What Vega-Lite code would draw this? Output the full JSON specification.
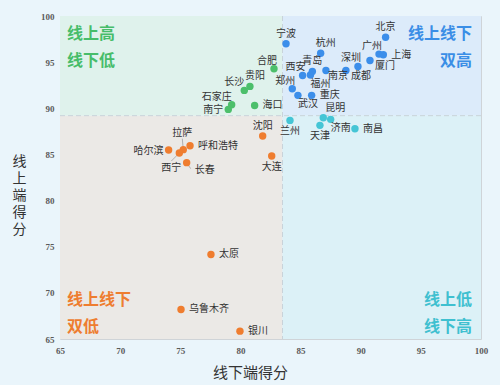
{
  "$schema": "https://vega.github.io/schema/vega-lite/v6.json",
  "width": 421,
  "height": 323,
  "autosize": "none",
  "padding": {"left": 60, "top": 16, "right": 19, "bottom": 46},
  "background": "#eaf5fb",
  "config": {"view": {"stroke": "#cfd4d8", "strokeWidth": 1}, "font": "Noto Sans CJK SC"},
  "datasets": {
    "cities": [
      {"city": "北京", "x": 92.07, "y": 97.70, "q": "tr"},
      {"city": "宁波", "x": 83.79, "y": 96.99, "q": "tr"},
      {"city": "杭州", "x": 86.67, "y": 95.97, "q": "tr"},
      {"city": "广州", "x": 91.52, "y": 95.87, "q": "tr"},
      {"city": "上海", "x": 91.88, "y": 95.80, "q": "tr"},
      {"city": "厦门", "x": 90.77, "y": 95.18, "q": "tr"},
      {"city": "深圳", "x": 89.77, "y": 94.53, "q": "tr"},
      {"city": "成都", "x": 88.77, "y": 94.10, "q": "tr"},
      {"city": "南京", "x": 87.11, "y": 94.10, "q": "tr"},
      {"city": "青岛", "x": 85.98, "y": 93.99, "q": "tr"},
      {"city": "福州", "x": 85.82, "y": 93.61, "q": "tr"},
      {"city": "西安", "x": 85.17, "y": 93.56, "q": "tr"},
      {"city": "郑州", "x": 84.31, "y": 92.12, "q": "tr"},
      {"city": "武汉", "x": 84.78, "y": 91.40, "q": "tr"},
      {"city": "重庆", "x": 85.92, "y": 91.40, "q": "tr"},
      {"city": "合肥", "x": 82.79, "y": 94.29, "q": "tl"},
      {"city": "贵阳", "x": 80.79, "y": 92.37, "q": "tl"},
      {"city": "长沙", "x": 80.32, "y": 91.94, "q": "tl"},
      {"city": "海口", "x": 81.18, "y": 90.31, "q": "tl"},
      {"city": "石家庄", "x": 79.27, "y": 90.39, "q": "tl"},
      {"city": "南宁", "x": 78.99, "y": 89.88, "q": "tl"},
      {"city": "兰州", "x": 84.12, "y": 88.69, "q": "br"},
      {"city": "昆明", "x": 86.89, "y": 88.98, "q": "br"},
      {"city": "济南", "x": 87.50, "y": 88.80, "q": "br"},
      {"city": "天津", "x": 86.61, "y": 88.15, "q": "br"},
      {"city": "南昌", "x": 89.52, "y": 87.79, "q": "br"},
      {"city": "沈阳", "x": 81.85, "y": 86.99, "q": "bl"},
      {"city": "大连", "x": 82.60, "y": 84.83, "q": "bl"},
      {"city": "哈尔滨", "x": 74.03, "y": 85.48, "q": "bl"},
      {"city": "拉萨", "x": 75.25, "y": 85.52, "q": "bl"},
      {"city": "西宁", "x": 74.92, "y": 85.15, "q": "bl"},
      {"city": "呼和浩特", "x": 75.81, "y": 85.94, "q": "bl"},
      {"city": "长春", "x": 75.53, "y": 84.11, "q": "bl"},
      {"city": "太原", "x": 77.55, "y": 74.16, "q": "bl"},
      {"city": "乌鲁木齐", "x": 75.06, "y": 68.20, "q": "bl"},
      {"city": "银川", "x": 79.96, "y": 65.85, "q": "bl"}
    ],
    "quads": [
      {"q": "tl", "x1": 65, "x2": 83.5, "y1": 89.2, "y2": 100},
      {"q": "tr", "x1": 83.5, "x2": 100, "y1": 89.2, "y2": 100},
      {"q": "bl", "x1": 65, "x2": 83.5, "y1": 65, "y2": 89.2},
      {"q": "br", "x1": 83.5, "x2": 100, "y1": 65, "y2": 89.2}
    ],
    "splits": [{"xs": 83.5, "ys": 89.2}]
  },
  "layer": [
    {
      "data": {"name": "quads"},
      "mark": {"type": "rect"},
      "encoding": {
        "x": {
          "field": "x1", "type": "quantitative",
          "scale": {"domain": [65, 100], "nice": false, "zero": false},
          "axis": {
            "values": [65, 70, 75, 80, 85, 90, 95, 100],
            "title": "线下端得分",
            "ticks": false, "domain": false, "grid": false,
            "labelFont": "Liberation Sans Narrow", "labelFontWeight": "bold", "labelFontSize": 9,
            "labelColor": "#5a5a5a", "labelPadding": 7, "labelFlush": false,
            "titleFont": "Noto Sans CJK SC", "titleFontSize": 15, "titleFontWeight": "normal",
            "titleColor": "#333333", "titleX": 190, "titleY": 33, "titleBaseline": "middle", "titleAlign": "center"
          }
        },
        "x2": {"field": "x2"},
        "y": {
          "field": "y1", "type": "quantitative",
          "scale": {"domain": [65, 100], "nice": false, "zero": false},
          "axis": {
            "values": [65, 70, 75, 80, 85, 90, 95, 100],
            "title": ["线", "上", "端", "得", "分"],
            "ticks": false, "domain": false, "grid": false,
            "labelFont": "Liberation Sans Narrow", "labelFontWeight": "bold", "labelFontSize": 9,
            "labelColor": "#5a5a5a", "labelPadding": 6, "labelFlush": false,
            "titleFont": "Noto Sans CJK SC", "titleFontSize": 14, "titleFontWeight": "normal",
            "titleColor": "#333333", "titleAngle": 0, "titleX": -41, "titleY": 145,
            "titleAlign": "center", "titleBaseline": "middle", "titleLineHeight": 17
          }
        },
        "y2": {"field": "y2"},
        "fill": {
          "field": "q", "type": "nominal",
          "scale": {"domain": ["tl", "tr", "bl", "br"], "range": ["#dff2ec", "#dcebfa", "#ebe9e6", "#dcf1f7"]},
          "legend": null
        }
      }
    },
    {
      "data": {"name": "splits"},
      "mark": {"type": "rule", "stroke": "#c9d3da", "strokeDash": [5, 3], "strokeWidth": 1},
      "encoding": {"x": {"field": "xs", "type": "quantitative"}}
    },
    {
      "data": {"name": "splits"},
      "mark": {"type": "rule", "stroke": "#c9d3da", "strokeDash": [5, 3], "strokeWidth": 1},
      "encoding": {"y": {"field": "ys", "type": "quantitative"}}
    },
    {
      "data": {"name": "cities"},
      "transform": [{"filter": {"field": "city", "equal": "拉萨"}}],
      "mark": {"type": "rule", "stroke": "#a0a0a0", "strokeWidth": 0.8, "y2Offset": -11, "x2Offset": -1},
      "encoding": {"x": {"field": "x", "type": "quantitative"}, "x2": {"field": "x"}, "y": {"field": "y", "type": "quantitative"}, "y2": {"field": "y"}}
    },
    {
      "data": {"name": "cities"},
      "transform": [{"filter": {"field": "city", "equal": "西宁"}}],
      "mark": {"type": "rule", "stroke": "#a0a0a0", "strokeWidth": 0.8, "y2Offset": 8, "x2Offset": -8},
      "encoding": {"x": {"field": "x", "type": "quantitative"}, "x2": {"field": "x"}, "y": {"field": "y", "type": "quantitative"}, "y2": {"field": "y"}}
    },
    {
      "data": {"name": "cities"},
      "transform": [{"filter": {"field": "city", "equal": "长春"}}],
      "mark": {"type": "rule", "stroke": "#a0a0a0", "strokeWidth": 0.8, "y2Offset": 6, "x2Offset": 4},
      "encoding": {"x": {"field": "x", "type": "quantitative"}, "x2": {"field": "x"}, "y": {"field": "y", "type": "quantitative"}, "y2": {"field": "y"}}
    },
    {
      "data": {"name": "cities"},
      "mark": {"type": "circle", "size": 55, "opacity": 1},
      "encoding": {
        "x": {"field": "x", "type": "quantitative"},
        "y": {"field": "y", "type": "quantitative"},
        "color": {
          "field": "q", "type": "nominal",
          "scale": {"domain": ["tl", "tr", "bl", "br"], "range": ["#4cbf6b", "#3b8eea", "#ef7d2f", "#45c5d5"]},
          "legend": null
        }
      }
    },
    {
      "data": {"name": "cities"},
      "transform": [{"filter": {"field": "city", "oneOf": ["宁波", "北京", "青岛", "沈阳"]}}],
      "mark": {"type": "text", "fontSize": 10, "color": "#333333", "align": "center", "baseline": "middle", "dy": -10},
      "encoding": {"x": {"field": "x", "type": "quantitative"}, "y": {"field": "y", "type": "quantitative"}, "text": {"field": "city"}}
    },
    {
      "data": {"name": "cities"},
      "transform": [{"filter": {"field": "city", "oneOf": ["杭州", "贵阳"]}}],
      "mark": {"type": "text", "fontSize": 10, "color": "#333333", "align": "left", "baseline": "middle", "dx": -5, "dy": -10},
      "encoding": {"x": {"field": "x", "type": "quantitative"}, "y": {"field": "y", "type": "quantitative"}, "text": {"field": "city"}}
    },
    {
      "data": {"name": "cities"},
      "transform": [{"filter": {"field": "city", "oneOf": ["广州", "深圳", "西安", "郑州", "合肥"]}}],
      "mark": {"type": "text", "fontSize": 10, "color": "#333333", "align": "right", "baseline": "middle", "dx": 3, "dy": -8},
      "encoding": {"x": {"field": "x", "type": "quantitative"}, "y": {"field": "y", "type": "quantitative"}, "text": {"field": "city"}}
    },
    {
      "data": {"name": "cities"},
      "transform": [{"filter": {"field": "city", "oneOf": ["长沙", "石家庄"]}}],
      "mark": {"type": "text", "fontSize": 10, "color": "#333333", "align": "right", "baseline": "middle", "dx": 0, "dy": -8},
      "encoding": {"x": {"field": "x", "type": "quantitative"}, "y": {"field": "y", "type": "quantitative"}, "text": {"field": "city"}}
    },
    {
      "data": {"name": "cities"},
      "transform": [{"filter": {"field": "city", "oneOf": ["上海", "重庆", "南昌", "海口", "呼和浩特", "太原", "乌鲁木齐", "银川"]}}],
      "mark": {"type": "text", "fontSize": 10, "color": "#333333", "align": "left", "baseline": "middle", "dx": 8},
      "encoding": {"x": {"field": "x", "type": "quantitative"}, "y": {"field": "y", "type": "quantitative"}, "text": {"field": "city"}}
    },
    {
      "data": {"name": "cities"},
      "transform": [{"filter": {"field": "city", "oneOf": ["厦门", "成都"]}}],
      "mark": {"type": "text", "fontSize": 10, "color": "#333333", "align": "left", "baseline": "middle", "dx": 5, "dy": 6},
      "encoding": {"x": {"field": "x", "type": "quantitative"}, "y": {"field": "y", "type": "quantitative"}, "text": {"field": "city"}}
    },
    {
      "data": {"name": "cities"},
      "transform": [{"filter": {"field": "city", "oneOf": ["南京"]}}],
      "mark": {"type": "text", "fontSize": 10, "color": "#333333", "align": "left", "baseline": "middle", "dx": 2, "dy": 6},
      "encoding": {"x": {"field": "x", "type": "quantitative"}, "y": {"field": "y", "type": "quantitative"}, "text": {"field": "city"}}
    },
    {
      "data": {"name": "cities"},
      "transform": [{"filter": {"field": "city", "oneOf": ["福州", "武汉", "济南"]}}],
      "mark": {"type": "text", "fontSize": 10, "color": "#333333", "align": "left", "baseline": "middle", "dx": 0, "dy": 9},
      "encoding": {"x": {"field": "x", "type": "quantitative"}, "y": {"field": "y", "type": "quantitative"}, "text": {"field": "city"}}
    },
    {
      "data": {"name": "cities"},
      "transform": [{"filter": {"field": "city", "oneOf": ["天津", "兰州", "大连"]}}],
      "mark": {"type": "text", "fontSize": 10, "color": "#333333", "align": "center", "baseline": "middle", "dy": 11},
      "encoding": {"x": {"field": "x", "type": "quantitative"}, "y": {"field": "y", "type": "quantitative"}, "text": {"field": "city"}}
    },
    {
      "data": {"name": "cities"},
      "transform": [{"filter": {"field": "city", "oneOf": ["哈尔滨", "南宁"]}}],
      "mark": {"type": "text", "fontSize": 10, "color": "#333333", "align": "right", "baseline": "middle", "dx": -5, "dy": 1},
      "encoding": {"x": {"field": "x", "type": "quantitative"}, "y": {"field": "y", "type": "quantitative"}, "text": {"field": "city"}}
    },
    {
      "data": {"name": "cities"},
      "transform": [{"filter": {"field": "city", "oneOf": ["昆明"]}}],
      "mark": {"type": "text", "fontSize": 10, "color": "#333333", "align": "left", "baseline": "middle", "dx": 2, "dy": -10},
      "encoding": {"x": {"field": "x", "type": "quantitative"}, "y": {"field": "y", "type": "quantitative"}, "text": {"field": "city"}}
    },
    {
      "data": {"name": "cities"},
      "transform": [{"filter": {"field": "city", "oneOf": ["拉萨"]}}],
      "mark": {"type": "text", "fontSize": 10, "color": "#333333", "align": "center", "baseline": "middle", "dx": -1, "dy": -17},
      "encoding": {"x": {"field": "x", "type": "quantitative"}, "y": {"field": "y", "type": "quantitative"}, "text": {"field": "city"}}
    },
    {
      "data": {"name": "cities"},
      "transform": [{"filter": {"field": "city", "oneOf": ["西宁"]}}],
      "mark": {"type": "text", "fontSize": 10, "color": "#333333", "align": "center", "baseline": "middle", "dx": -8, "dy": 15},
      "encoding": {"x": {"field": "x", "type": "quantitative"}, "y": {"field": "y", "type": "quantitative"}, "text": {"field": "city"}}
    },
    {
      "data": {"name": "cities"},
      "transform": [{"filter": {"field": "city", "oneOf": ["长春"]}}],
      "mark": {"type": "text", "fontSize": 10, "color": "#333333", "align": "left", "baseline": "middle", "dx": 8, "dy": 7},
      "encoding": {"x": {"field": "x", "type": "quantitative"}, "y": {"field": "y", "type": "quantitative"}, "text": {"field": "city"}}
    },
    {
      "data": {"values": [{}]},
      "mark": {"type": "text", "fontSize": 16, "fontWeight": "bold", "color": "#47bd6a", "align": "left", "baseline": "middle", "dx": 7, "lineHeight": 27, "text": ["线上高", "线下低"]},
      "encoding": {"x": {"datum": 65, "type": "quantitative"}, "y": {"datum": 98.07, "type": "quantitative"}}
    },
    {
      "data": {"values": [{}]},
      "mark": {"type": "text", "fontSize": 16, "fontWeight": "bold", "color": "#3a8ee6", "align": "right", "baseline": "middle", "dx": -9, "lineHeight": 27, "text": ["线上线下", "双高"]},
      "encoding": {"x": {"datum": 100, "type": "quantitative"}, "y": {"datum": 98.07, "type": "quantitative"}}
    },
    {
      "data": {"values": [{}]},
      "mark": {"type": "text", "fontSize": 16, "fontWeight": "bold", "color": "#ee7d30", "align": "left", "baseline": "middle", "dx": 7, "lineHeight": 27, "text": ["线上线下", "双低"]},
      "encoding": {"x": {"datum": 65, "type": "quantitative"}, "y": {"datum": 69.2, "type": "quantitative"}}
    },
    {
      "data": {"values": [{}]},
      "mark": {"type": "text", "fontSize": 16, "fontWeight": "bold", "color": "#3fc0d0", "align": "right", "baseline": "middle", "dx": -9, "lineHeight": 27, "text": ["线上低", "线下高"]},
      "encoding": {"x": {"datum": 100, "type": "quantitative"}, "y": {"datum": 69.2, "type": "quantitative"}}
    }
  ]
}
